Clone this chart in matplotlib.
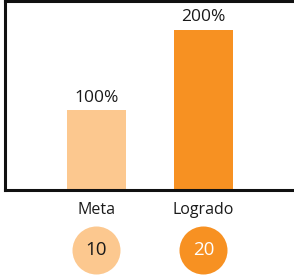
import matplotlib
matplotlib.use("Agg")
import matplotlib.pyplot as plt
from matplotlib.transforms import blended_transform_factory

categories = ["Meta", "Logrado"]
values = [100, 200]
counts = [10, 20]
colors = ["#FCC88F", "#F79122"]
count_text_colors = ["#1a1a1a", "#ffffff"]

plt.rcParams["font.family"] = ["Open Sans", "DejaVu Sans"]

fig = plt.figure(figsize=(2.94, 2.77), dpi=100)
ax = fig.add_axes([5 / 294, 87 / 277, 289 / 294, 189 / 277])

x = list(range(len(categories)))
ax.bar(x, values, width=0.55, color=colors)
ax.set_xlim(-0.855, 1.846)
ax.set_ylim(0, 236)

for xi, v in zip(x, values):
    ax.annotate(f"{v}%", (xi, v), xytext=(0, 6), textcoords="offset points",
                ha="center", va="baseline", fontsize=12.5, color="#1a1a1a")

for side in ["top", "left", "bottom"]:
    ax.spines[side].set_linewidth(2.2)
    ax.spines[side].set_color("#111111")
ax.spines["right"].set_visible(False)
ax.set_xticks([])
ax.set_yticks([])

trans = blended_transform_factory(ax.transData, ax.transAxes)
for xi, cat, n, c, tc in zip(x, categories, counts, colors, count_text_colors):
    ax.text(xi, -0.105, cat, transform=trans, ha="center", va="center",
            fontsize=11.5, color="#1a1a1a")
    ax.scatter([xi], [-0.317], s=1195, color=c, transform=trans, clip_on=False,
               linewidths=0)
    ax.text(xi, -0.317, str(n), transform=trans, ha="center", va="center",
            fontsize=13.5, color=tc)

fig.savefig("out.png", dpi=100)
